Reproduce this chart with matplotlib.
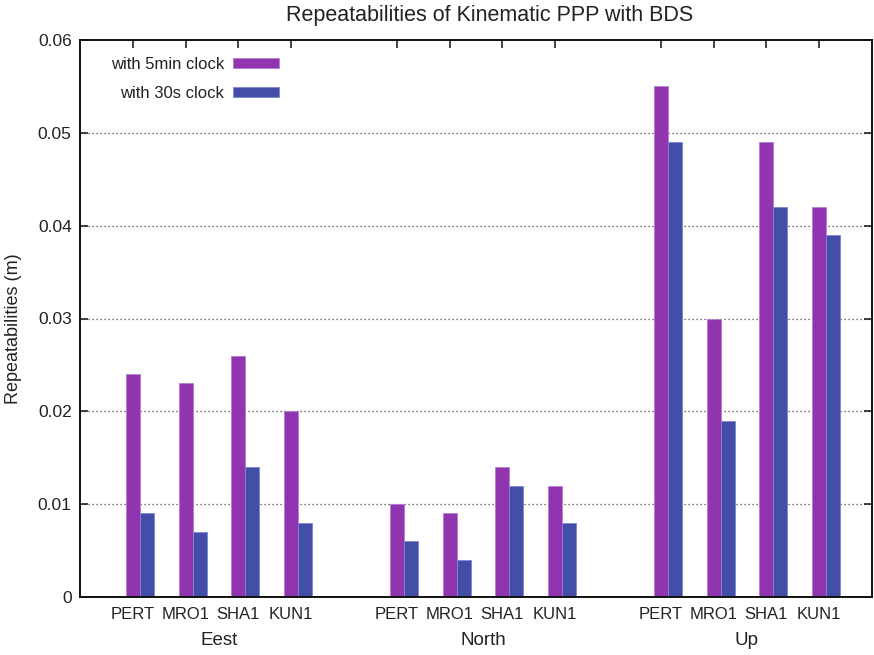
import matplotlib
matplotlib.use("Agg")
import matplotlib.pyplot as plt
import numpy as np

plt.rcParams['font.family'] = ['Liberation Sans', 'DejaVu Sans']

# Data
groups = ["Eest", "North", "Up"]
stations = ["PERT", "MRO1", "SHA1", "KUN1"]
clock_5min = [0.024, 0.023, 0.026, 0.020,   # East
              0.010, 0.009, 0.014, 0.012,   # North
              0.055, 0.030, 0.049, 0.042]   # Up
clock_30s = [0.009, 0.007, 0.014, 0.008,
             0.006, 0.004, 0.012, 0.008,
             0.049, 0.019, 0.042, 0.039]
series_labels = ["with 5min clock", "with 30s clock"]
y_ticks = [0, 0.01, 0.02, 0.03, 0.04, 0.05, 0.06]

purple = "#9034b0"
blue = "#424ea8"

W, H = 874, 655
fig = plt.figure(figsize=(W / 100, H / 100), dpi=100)
ax = fig.add_axes([80 / W, 1 - 597 / H, (872 - 80) / W, (597 - 40) / H])

# cluster layout: 4 stations per component, gap of one slot between clusters
n_st = len(stations)
x = np.array([g * (n_st + 1) + i for g in range(len(groups)) for i in range(n_st)], dtype=float)
bw = 0.265

ax.bar(x, clock_5min, width=bw, color=purple, edgecolor="#b47fd0", linewidth=0.6,
       label=series_labels[0], zorder=2)
ax.bar(x + bw, clock_30s, width=bw, color=blue, edgecolor="#8088cc", linewidth=0.6,
       label=series_labels[1], zorder=2)

ax.set_xlim(-1, 14)
ax.set_ylim(0, 0.06)
ax.set_yticks(y_ticks)
ax.set_yticklabels(["0" if v == 0 else f"{v:.2f}" for v in y_ticks])
ax.set_xticks(x)
ax.set_xticklabels(stations * len(groups))

ax.tick_params(axis='x', which='both', direction='in', top=True, bottom=True,
               length=6, width=1.2, labelsize=12, pad=7, colors='#222222')
ax.tick_params(axis='y', which='both', direction='in', left=True, right=True,
               length=6, width=1.2, labelsize=12.5, pad=6, colors='#222222')
for lbl in ax.get_xticklabels() + ax.get_yticklabels():
    lbl.set_color('#222222')

for sp in ax.spines.values():
    sp.set_linewidth(1.4)
    sp.set_color('#111111')

ax.set_axisbelow(True)
for v in y_ticks[1:-1]:
    ax.axhline(v, color='#444444', linestyle=(0, (1, 2.2)), linewidth=0.9, zorder=0.5)

# component labels under each cluster
for g, name in enumerate(groups):
    xc = x[g * n_st:(g + 1) * n_st].mean() + bw / 2
    ax.annotate(name, xy=(xc, 0), xycoords=('data', 'axes fraction'),
                xytext=(0, -31), textcoords='offset points',
                ha='center', va='center', fontsize=13.5, color='#222222')

fig.text(14 / W, 1 - 329 / H, "Repeatabilities (m)", rotation=90,
         ha='center', va='center', fontsize=13, color='#222222')
fig.text(490 / W, 1 - 15 / H, "Repeatabilities of Kinematic PPP with BDS",
         ha='center', va='center', fontsize=15.5, color='#222222')

leg = ax.legend(loc='upper left', bbox_to_anchor=(0.02, 0.997), frameon=False,
                markerfirst=False, fontsize=12, handlelength=2.75, handleheight=0.5,
                handletextpad=0.55, labelspacing=0.85)
for t in leg.get_texts():
    t.set_color('#222222')

fig.savefig("out.png", dpi=100)
